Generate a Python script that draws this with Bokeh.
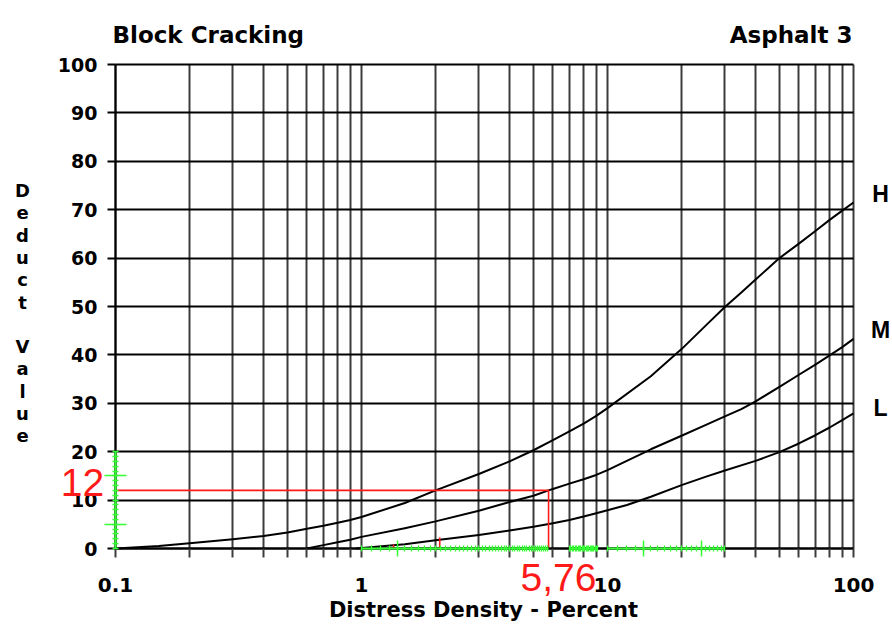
from bokeh.plotting import figure
from bokeh.models import FixedTicker, CustomJSTickFormatter, Range1d, LinearAxis, LogAxis, Label
from bokeh.embed import file_html
from bokeh.resources import INLINE

# ---------------- data ----------------
density_h = [0.1, 0.15, 0.2, 0.3, 0.4, 0.5, 0.6, 0.7, 0.8, 0.9, 1, 1.5, 2, 3, 4, 5, 6, 7, 8, 9,
             10, 15, 20, 25, 30, 35, 40, 45, 50, 60, 70, 80, 90, 100]
deduct_h = [0, 0.5, 1.1, 1.9, 2.6, 3.3, 4.1, 4.7, 5.3, 5.9, 6.5, 9.4, 12.0, 15.4, 18.0, 20.3, 22.4, 24.2, 25.8, 27.4,
            29.0, 35.6, 41.2, 46.0, 49.9, 52.9, 55.6, 57.9, 60.0, 63.0, 65.6, 67.9, 69.8, 71.5]

density_m = [0.6, 0.7, 0.8, 0.9, 1, 1.5, 2, 3, 4, 5, 5.76, 6, 7, 8, 9, 10, 15, 20, 25, 30, 35, 40, 50, 60, 70,
             80, 90, 100]
deduct_m = [0, 0.7, 1.3, 1.8, 2.4, 4.2, 5.6, 7.8, 9.6, 10.9, 12.0, 12.3, 13.4, 14.3, 15.2, 16.2, 20.5, 23.3,
            25.5, 27.3, 28.8, 30.4, 33.4, 35.9, 38.0, 39.9, 41.6, 43.3]

density_l = [0.95, 1.5, 2, 3, 4, 5, 6, 7, 8, 9, 10, 12, 15, 20, 25, 30, 40, 50, 60, 70, 80, 90, 100]
deduct_l = [0, 0.9, 1.7, 2.8, 3.7, 4.5, 5.2, 5.9, 6.6, 7.3, 7.9, 9.0, 10.7, 13.1, 14.8, 16.1, 18.1, 19.9, 21.7,
            23.4, 25.0, 26.5, 27.9]

curve_names = ["H", "M", "L"]

reading_density = 5.76
reading_deduct = 12

x_ticks = [0.1, 1, 10, 100]
x_tick_labels = ["0.1", "1", "10", "100"]
x_minor_ticks = [0.2, 0.3, 0.4, 0.5, 0.6, 0.7, 0.8, 0.9, 2, 3, 4, 5, 6, 7, 8, 9,
                 20, 30, 40, 50, 60, 70, 80, 90]
y_ticks = [0, 10, 20, 30, 40, 50, 60, 70, 80, 90, 100]

title_left = "Block Cracking"
title_right = "Asphalt 3"
x_title = "Distress Density - Percent"
y_title = "Deduct Value"

# green measuring rulers drawn over the scan
y_ruler_ticks = list(range(0, 21))
y_ruler_major = [5, 15]
x_ruler_spans = [[1.0, 5.76], [7.0, 9.1], [10.0, 30.0]]
x_ruler_ticks = ([round(1 + 0.1 * i, 2) for i in range(0, 48)] +
                 [round(7 + 0.1 * i, 2) for i in range(0, 22)] +
                 list(range(10, 31)))
x_ruler_major = [1.4, 14, 24]
red_tick_x = [1.35, 2.08]
red_tick_top = [0.8, 2.3]

# ---------------- layout ----------------
W, H = 892, 624
FL, FR, FT, FB = 115, 853, 64, 548  # chart box in page px


def dx(px):  # page px -> data x (log)
    return 10 ** (-1 + 3 * (px - FL) / (FR - FL))


def dy(py):  # page py -> data y
    return 100 * (FB - py) / (FB - FT)


# the plotting frame covers the whole canvas; the axes sit at fixed data locations
p = figure(width=W, height=H, x_axis_type="log", output_backend="svg", toolbar_location=None,
           x_range=Range1d(dx(0), dx(W)), y_range=Range1d(dy(H), dy(0)),
           min_border=0, min_border_left=0, min_border_right=0, min_border_top=0, min_border_bottom=0)
p.background_fill_color = "white"
p.border_fill_color = "white"
p.outline_line_color = None

BOLD = "DejaVu Sans"
GRID = "#3c3c3c"
RED = "#ff1a1a"
GREEN = "#33ff33"


def label_formatter(keys, labels):
    return CustomJSTickFormatter(
        args=dict(ks=[f"{k:.3f}" for k in keys], ls=list(labels)),
        code="const i = ks.indexOf(tick.toFixed(3)); return i >= 0 ? ls[i] : '';")


xa = p.xaxis[0]
xa.fixed_location = y_ticks[0]
xa.bounds = (x_ticks[0], x_ticks[-1])
xa.ticker = FixedTicker(ticks=x_ticks, minor_ticks=x_minor_ticks)
xa.formatter = label_formatter(x_ticks, x_tick_labels)
xa.axis_line_color = "black"
xa.axis_line_width = 2
xa.major_tick_out = 9
xa.major_tick_in = 0
xa.minor_tick_out = 9
xa.minor_tick_in = 0
xa.major_tick_line_color = GRID
xa.minor_tick_line_color = GRID
xa.major_tick_line_width = 2
xa.minor_tick_line_width = 2
xa.major_label_standoff = 20
xa.major_label_text_font = BOLD
xa.major_label_text_font_style = "bold"
xa.major_label_text_font_size = "20px"
xa.major_label_text_color = "black"

ya = p.yaxis[0]
ya.fixed_location = x_ticks[0]
ya.bounds = (y_ticks[0], y_ticks[-1])
ya.ticker = FixedTicker(ticks=y_ticks)
ya.axis_line_color = "black"
ya.axis_line_width = 2
ya.major_tick_out = 8
ya.major_tick_in = 0
ya.minor_tick_line_color = None
ya.major_tick_line_color = "black"
ya.major_tick_line_width = 2
ya.major_label_standoff = 10
ya.major_label_text_font = BOLD
ya.major_label_text_font_style = "bold"
ya.major_label_text_font_size = "19px"
ya.major_label_text_color = "black"

# grid limited to the chart box
xg, yg = p.xgrid[0], p.ygrid[0]
try:
    xg.cross_bounds = (y_ticks[0], y_ticks[-1])
    yg.cross_bounds = (x_ticks[0], x_ticks[-1])
    xg.grid_line_color = GRID
    xg.grid_line_width = 2
    xg.minor_grid_line_color = GRID
    xg.minor_grid_line_width = 2
    yg.grid_line_color = "black"
    yg.grid_line_width = 2
except AttributeError:
    xg.visible = False
    yg.visible = False
    vx = x_ticks + x_minor_ticks
    p.segment(x0=vx, y0=[y_ticks[0]] * len(vx), x1=vx, y1=[y_ticks[-1]] * len(vx),
              line_color=GRID, line_width=2)
    p.segment(x0=[x_ticks[0]] * len(y_ticks), y0=y_ticks, x1=[x_ticks[-1]] * len(y_ticks), y1=y_ticks,
              line_color="black", line_width=2)

# curves
for xs, ys in [(density_h, deduct_h), (density_m, deduct_m), (density_l, deduct_l)]:
    p.line(xs, ys, line_color="black", line_width=2, line_join="round")

# green rulers (as axes fixed in the chart)
blank = CustomJSTickFormatter(code="return '';")
yr = LinearAxis(fixed_location=x_ticks[0], bounds=(y_ruler_ticks[0], y_ruler_ticks[-1]),
                ticker=FixedTicker(ticks=y_ruler_major, minor_ticks=y_ruler_ticks), formatter=blank,
                axis_line_color=GREEN, axis_line_width=2,
                major_tick_line_color=GREEN, major_tick_line_width=1.5, major_tick_in=11, major_tick_out=11,
                minor_tick_line_color=GREEN, minor_tick_line_width=1.5, minor_tick_in=3, minor_tick_out=3,
                major_label_text_font_size="0px")
p.add_layout(yr, "left")
for a, b in x_ruler_spans:
    ticks_in = [t for t in x_ruler_ticks if a <= t <= b]
    major_in = [t for t in x_ruler_major if a <= t <= b]
    xr = LogAxis(fixed_location=0, bounds=(a, b),
                 ticker=FixedTicker(ticks=major_in, minor_ticks=ticks_in), formatter=blank,
                 axis_line_color=GREEN, axis_line_width=2,
                 major_tick_line_color=GREEN, major_tick_line_width=1.5, major_tick_in=8, major_tick_out=8,
                 minor_tick_line_color=GREEN, minor_tick_line_width=1.3, minor_tick_in=3, minor_tick_out=3,
                 major_label_text_font_size="0px")
    p.add_layout(xr, "below")

# red reading lines
p.line([x_ticks[0], reading_density, reading_density], [reading_deduct, reading_deduct, 0],
       line_color=RED, line_width=1.6)
p.segment(x0=red_tick_x, y0=[0] * len(red_tick_x), x1=red_tick_x, y1=red_tick_top,
          line_color=RED, line_width=1.6)


def lab(text, px, py, size, align="left", color="black", font=BOLD, style="bold"):
    # py is the vertical centre of the text
    p.add_layout(Label(x=dx(px), y=dy(py), text=text, text_font=font, text_font_style=style,
                       text_font_size=size, text_color=color, text_align=align, text_baseline="middle"))


lab(title_left, 112, 34.5, "23px")
lab(title_right, 852, 34.5, "23px", align="right")
lab(x_title, 483, 609, "21px", align="center")
for i, ch in enumerate(y_title):
    if ch != " ":
        lab(ch, 22, 190 + i * 22.3, "18px", align="center")
for name, yy in zip(curve_names, [193, 329, 407]):
    lab(name, 880, yy, "23px", align="center", font="Liberation Sans")
lab(str(reading_deduct), 82, 481.5, "39px", align="center", color=RED, font="Liberation Sans", style="normal")
lab(f"{reading_density}".replace(".", ","), 558, 577, "39px", align="center", color=RED,
    font="Liberation Sans", style="normal")

open("out.html", "w").write(file_html(p, INLINE))
